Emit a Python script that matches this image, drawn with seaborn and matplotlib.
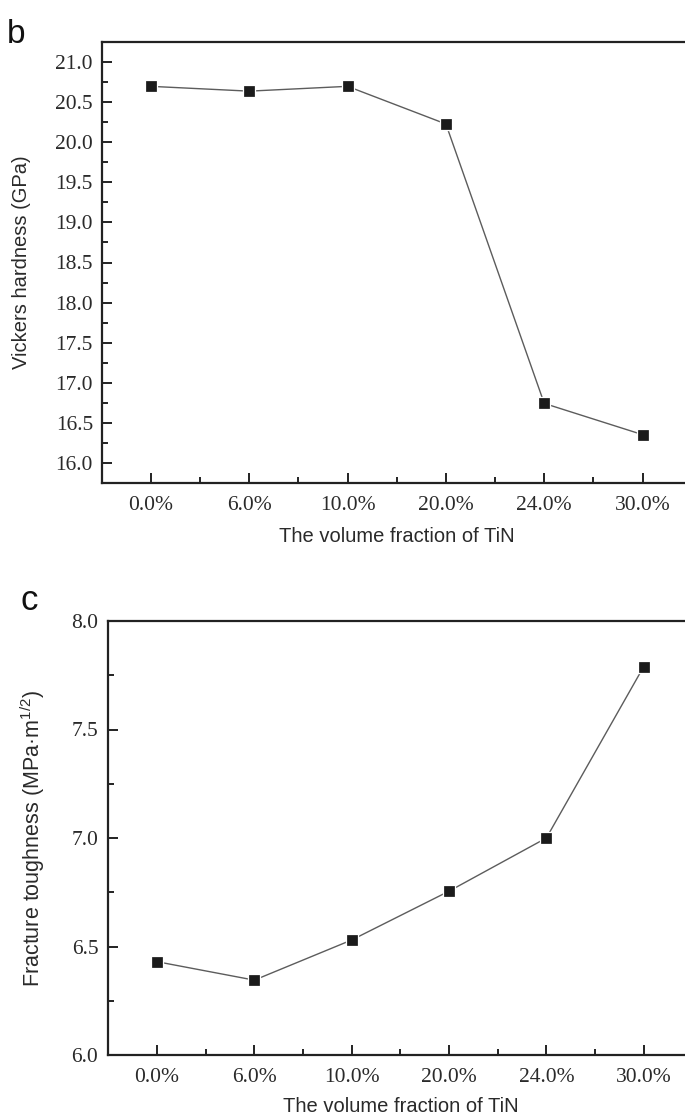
import matplotlib
matplotlib.use("Agg")
import matplotlib.pyplot as plt
from matplotlib.ticker import MultipleLocator, FixedLocator, FormatStrFormatter
import seaborn as sns
import pandas as pd
import numpy as np

# TiN content of the composites and the measured properties
tin_fraction = ["0.0%", "6.0%", "10.0%", "20.0%", "24.0%", "30.0%"]
vickers_hardness = [20.70, 20.64, 20.70, 20.23, 16.74, 16.35]       # GPa
fracture_toughness = [6.43, 6.345, 6.53, 6.755, 7.00, 7.79]        # MPa·m^1/2

sns.set_theme(style="ticks")
plt.rcParams["font.family"] = ["Liberation Sans", "DejaVu Sans"]
plt.rcParams["mathtext.fontset"] = "custom"
plt.rcParams["mathtext.rm"] = "Liberation Sans"

W, H = 685, 1115
fig = plt.figure(figsize=(W / 100, H / 100), dpi=100)


def axes_px(left, top, right, bottom):
    return fig.add_axes([left / W, 1 - bottom / H, (right - left) / W, (bottom - top) / H])


ax_b = axes_px(101.7, 42.3, 691.75, 482.7)
ax_c = axes_px(108.3, 621.0, 692.4, 1055.0)

TICK_FONT = "Liberation Serif"
TEXT_COLOR = "#2a2a2a"


def draw_panel(ax, values, ylim, major, minor, ylabel, ylabel_size, ylabel_x, xlabel_y, ypad):
    df = pd.DataFrame({"pos": np.arange(len(tin_fraction)), "value": values})
    sns.lineplot(data=df, x="pos", y="value", ax=ax, color="#5c5c5c",
                 linewidth=1.0, zorder=2)
    sns.scatterplot(data=df, x="pos", y="value", ax=ax, marker="s", s=78,
                    color="#1b1b1b", edgecolor="white", linewidth=0.9, zorder=3)

    ax.set_xlim(-0.5, len(tin_fraction) - 0.5)
    ax.set_xticks(np.arange(len(tin_fraction)))
    ax.set_xticklabels(tin_fraction)
    ax.xaxis.set_minor_locator(FixedLocator(np.arange(0.5, len(tin_fraction) - 1, 1.0)))

    ax.set_ylim(*ylim)
    ax.yaxis.set_major_locator(MultipleLocator(major))
    ax.yaxis.set_minor_locator(MultipleLocator(minor))
    ax.yaxis.set_major_formatter(FormatStrFormatter("%.1f"))

    ax.tick_params(which="both", direction="in", color="#222222", width=1.4,
                   top=False, right=False)
    ax.tick_params(which="major", length=7)
    ax.tick_params(which="minor", length=4.5)
    ax.tick_params(axis="x", which="major", pad=9.5, labelsize=15.5,
                   labelcolor=TEXT_COLOR, labelfontfamily=TICK_FONT)
    ax.tick_params(axis="y", which="major", pad=ypad, labelsize=15.5,
                   labelcolor=TEXT_COLOR, labelfontfamily=TICK_FONT)

    for side in ("top", "left", "bottom", "right"):
        ax.spines[side].set_linewidth(1.6)
        ax.spines[side].set_color("#222222")

    ax.set_xlabel("The volume fraction of TiN", fontsize=14.5, color=TEXT_COLOR)
    ax.set_ylabel(ylabel, fontsize=ylabel_size, color=TEXT_COLOR)
    ax.xaxis.set_label_coords(0.5, xlabel_y)
    ax.yaxis.set_label_coords(ylabel_x, 0.5)


draw_panel(ax_b, vickers_hardness, (15.75, 21.25), 0.5, 0.25,
           "Vickers hardness (GPa)", 14.5, -0.12, -0.10, 6.3)
draw_panel(ax_c, fracture_toughness, (6.0, 8.0), 0.5, 0.25,
           r"Fracture toughness (MPa·m$^{\mathregular{1/2}}$)", 15.5, -0.105, -0.097, 7.2)

fig.text(7 / W, 1 - 43 / H, "b", fontsize=24, color="#111111", va="baseline", ha="left")
fig.text(21 / W, 1 - 610 / H, "c", fontsize=25, color="#111111", va="baseline", ha="left")

fig.savefig("out.png", dpi=100, facecolor="white")
